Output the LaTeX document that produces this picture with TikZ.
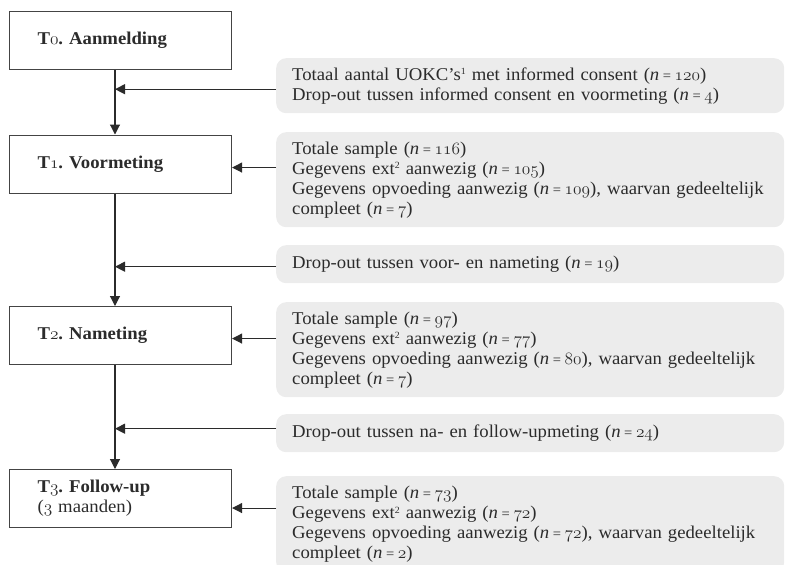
\documentclass[tikz,border=0pt]{standalone}
\usepackage{fontspec}
\setmainfont{Liberation Serif}[FakeStretch=1.04]
\usetikzlibrary{arrows.meta}
\definecolor{ink}{HTML}{2B2B2B}
\definecolor{gfill}{HTML}{ECECEC}
\definecolor{edge}{HTML}{444444}
\newcommand\os[1]{{\fontencoding{OML}\fontfamily{lmm}\fontshape{it}\selectfont #1}}
\newcommand\nn[1]{(\textit{n}\hspace{0.2em}{\fontsize{14}{14}\selectfont=}\hspace{0.2em}\os{#1})}
\newcommand\supnum[1]{\raisebox{0.62ex}{\fontsize{9.5}{9.5}\selectfont #1}}
\begin{document}
\frenchspacing
\begin{tikzpicture}[x=1pt,y=-1pt,
  font=\fontsize{18}{20}\selectfont, text=ink,
  stage/.style={draw=edge, line width=1.1pt, fill=white, minimum width=222pt, minimum height=58pt,
    text width=166pt, inner xsep=28pt, inner ysep=0pt, align=left, anchor=north west},
  info/.style={fill=gfill, rounded corners=10pt, text width=476pt, inner xsep=16pt, inner ysep=0pt,
    align=left, anchor=north west},
  flow/.style={draw=ink, line width=1.1pt, -{Triangle[length=10pt,width=10pt]}}]
\clip (0,0) rectangle (785,565);
\coordinate (sp) at (115,0);
\node[stage] (t0) at (9,11) {\textbf{T\os{0}. Aanmelding}};
\node[stage] (t1) at (9,134.5) {\textbf{T\os{1}. Voormeting}};
\node[stage] (t2) at (9,306) {\textbf{T\os{2}. Nameting}};
\node[stage] (t3) at (9,469) {\textbf{T\os{3}. Follow-up}\\(\os{3} maanden)};
\node[info, minimum height=55pt] (g1) at (276,58)
  {\mbox{Totaal aantal UOKC’s\supnum{1} met informed consent \nn{120}}\\
   \mbox{Drop-out tussen informed consent en voormeting \nn{4}}};
\node[info, minimum height=95pt] (g2) at (276,132)
  {Totale sample \nn{116}\\
   Gegevens ext\supnum{2} aanwezig \nn{105}\\
   \mbox{Gegevens opvoeding aanwezig \nn{109}, waarvan gedeeltelijk}\\
   compleet \nn{7}};
\node[info, minimum height=38pt] (g3) at (276,245)
  {Drop-out tussen voor- en nameting \nn{19}};
\node[info, minimum height=95pt] (g4) at (276,302)
  {Totale sample \nn{97}\\
   Gegevens ext\supnum{2} aanwezig \nn{77}\\
   \mbox{Gegevens opvoeding aanwezig \nn{80}, waarvan gedeeltelijk}\\
   compleet \nn{7}};
\node[info, minimum height=38pt] (g5) at (276,414)
  {Drop-out tussen na- en follow-upmeting \nn{24}};
\node[info, minimum height=96pt] (g6) at (276,476)
  {Totale sample \nn{73}\\
   Gegevens ext\supnum{2} aanwezig \nn{72}\\
   \mbox{Gegevens opvoeding aanwezig \nn{72}, waarvan gedeeltelijk}\\
   compleet \nn{2}};
\draw[flow] (t0.south -| sp) -- (t1.north -| sp);
\draw[flow] (t1.south -| sp) -- (t2.north -| sp);
\draw[flow] (t2.south -| sp) -- (t3.north -| sp);
\draw[flow] ([yshift=-3.5pt]g1.west) -- ([yshift=-3.5pt]g1.west -| sp);
\draw[flow] ([yshift=-2.5pt]g3.west) -- ([yshift=-2.5pt]g3.west -| sp);
\draw[flow] ([yshift=4.5pt]g5.west) -- ([yshift=4.5pt]g5.west -| sp);
\draw[flow] ([yshift=-3.5pt]t1.east -| g2.west) -- ([yshift=-3.5pt]t1.east);
\draw[flow] ([yshift=-3pt]t2.east -| g4.west) -- ([yshift=-3pt]t2.east);
\draw[flow] ([yshift=-9.5pt]t3.east -| g6.west) -- ([yshift=-9.5pt]t3.east);
\end{tikzpicture}
\end{document}
